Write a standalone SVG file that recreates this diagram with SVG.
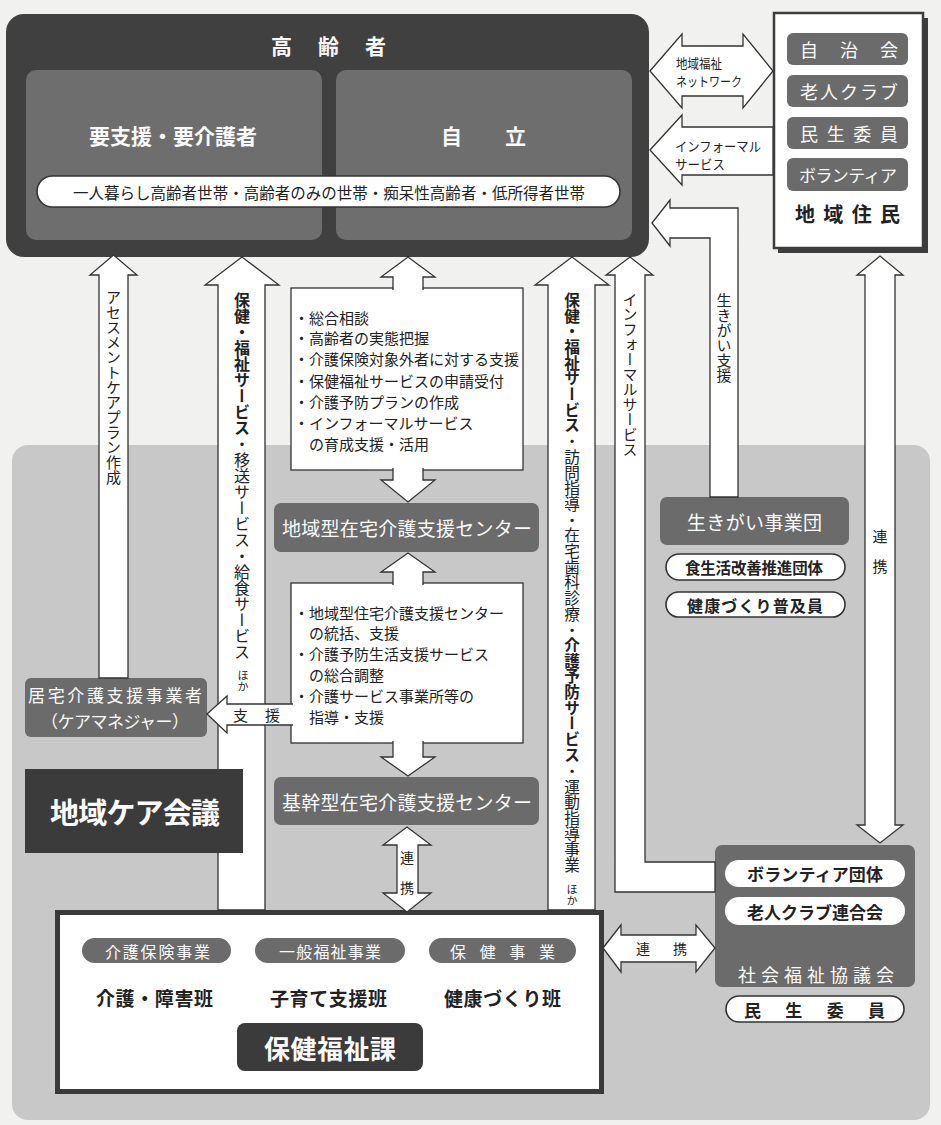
<svg xmlns="http://www.w3.org/2000/svg" width="941" height="1125" viewBox="0 0 941 1125">
<style>
text{font-family:"Noto Sans CJK JP","Noto Sans",sans-serif;dominant-baseline:central;fill:#222}
.w{fill:#fafafa}
.b{font-weight:bold}
.v{writing-mode:vertical-rl;dominant-baseline:auto}
.ar{fill:#fff;stroke:#333;stroke-width:1.3;stroke-linejoin:miter}
.gbox{fill:#6b6b6b}
.pill{fill:#fff;stroke:#333;stroke-width:1.6}
.info{fill:#fff;stroke:#333;stroke-width:1.3}
</style>
<rect width="941" height="1125" fill="#f1f1ef"/>
<rect x="12" y="445" width="918" height="675" rx="16" fill="#c8c8c8"/>

<g id="koreisha">
<rect x="6" y="14" width="643" height="243" rx="18" fill="#404040"/>
<rect x="26" y="70" width="296" height="170" rx="10" fill="#6e6e6e"/>
<rect x="336" y="70" width="296" height="170" rx="10" fill="#6e6e6e"/>
<text class="w b" x="271" y="45" font-size="21" textLength="115" lengthAdjust="spacing">高齢者</text>
<text class="w b" x="89" y="135" font-size="21" textLength="168" lengthAdjust="spacing">要支援・要介護者</text>
<text class="w b" x="441" y="135" font-size="21" textLength="85" lengthAdjust="spacing">自立</text>
<rect class="pill" x="37" y="176" width="583" height="31" rx="15.5" stroke-width="2"/>
<text x="73" y="192" font-size="15.5" textLength="512" lengthAdjust="spacing">一人暮らし高齢者世帯・高齢者のみの世帯・痴呆性高齢者・低所得者世帯</text>
</g>

<g id="chiiki-jumin">
<rect x="778" y="18" width="150" height="235" fill="#3d3d3d"/>
<rect x="774" y="13" width="149" height="235" fill="#fff" stroke="#3d3d3d" stroke-width="2.5"/>
<rect class="gbox" x="787" y="33" width="121" height="32" rx="6"/>
<text class="w" x="800" y="49" font-size="18" textLength="98" lengthAdjust="spacing">自治会</text>
<rect class="gbox" x="787" y="75" width="121" height="32" rx="6"/>
<text class="w" x="800" y="91" font-size="18" textLength="98" lengthAdjust="spacing">老人クラブ</text>
<rect class="gbox" x="787" y="117" width="121" height="32" rx="6"/>
<text class="w" x="800" y="132.5" font-size="18" textLength="98" lengthAdjust="spacing">民生委員</text>
<rect class="gbox" x="787" y="158" width="121" height="33" rx="6"/>
<text class="w" x="799" y="174.5" font-size="17" textLength="98" lengthAdjust="spacing">ボランティア</text>
<text class="b" x="795" y="213" font-size="20" textLength="105" lengthAdjust="spacing">地域住民</text>
</g>

<g id="info-upper">
<rect class="info" x="291" y="288" width="232" height="182"/>
<text x="294" y="317" font-size="15">・総合相談</text>
<text x="294" y="337" font-size="15">・高齢者の実態把握</text>
<text x="294" y="358" font-size="15">・介護保険対象外者に対する支援</text>
<text x="294" y="380" font-size="15">・保健福祉サービスの申請受付</text>
<text x="294" y="401" font-size="15">・介護予防プランの作成</text>
<text x="294" y="422" font-size="15">・インフォーマルサービス</text>
<text x="309" y="443" font-size="15">の育成支援・活用</text>
</g>

<g id="chiikigata">
<rect class="gbox" x="274" y="503" width="265" height="49" rx="7"/>
<text class="w" x="282" y="527.5" font-size="19" textLength="250" lengthAdjust="spacing">地域型在宅介護支援センター</text>
</g>

<g id="info-lower">
<rect class="info" x="291" y="583" width="232" height="160"/>
<text x="294" y="612" font-size="15">・地域型住宅介護支援センター</text>
<text x="309" y="632" font-size="15">の統括、支援</text>
<text x="294" y="653" font-size="15">・介護予防生活支援サービス</text>
<text x="309" y="674" font-size="15">の総合調整</text>
<text x="294" y="695" font-size="15">・介護サービス事業所等の</text>
<text x="309" y="716" font-size="15">指導・支援</text>
</g>

<g id="kikangata">
<rect class="gbox" x="274" y="777" width="265" height="48" rx="7"/>
<text class="w" x="282" y="801" font-size="19" textLength="250" lengthAdjust="spacing">基幹型在宅介護支援センター</text>
</g>

<g id="kyotaku">
<rect class="gbox" x="25" y="678" width="182" height="59" rx="6"/>
<text class="w" x="28" y="694" font-size="17" textLength="174" lengthAdjust="spacing">居宅介護支援事業者</text>
<text class="w" x="41" y="720" font-size="17" textLength="148" lengthAdjust="spacing">（ケアマネジャー）</text>
</g>

<g id="ikigai">
<rect class="gbox" x="660" y="497" width="189" height="48" rx="7"/>
<text class="w" x="687" y="521" font-size="19" textLength="135" lengthAdjust="spacing">生きがい事業団</text>
<rect class="pill" x="666" y="554" width="179" height="26" rx="13"/>
<text class="b" x="685" y="567" font-size="15.5" textLength="138" lengthAdjust="spacing">食生活改善推進団体</text>
<rect class="pill" x="666" y="592" width="179" height="25" rx="12.5"/>
<text class="b" x="687" y="604.5" font-size="16" textLength="136" lengthAdjust="spacing">健康づくり普及員</text>
</g>

<g id="shakyo">
<rect class="gbox" x="715" y="845" width="200" height="142" rx="7"/>
<rect x="725" y="860" width="180" height="27" rx="13.5" fill="#fff"/>
<text class="b" x="747" y="873.5" font-size="17" textLength="136" lengthAdjust="spacing">ボランティア団体</text>
<rect x="725" y="897" width="180" height="28" rx="14" fill="#fff"/>
<text class="b" x="747" y="911" font-size="17" textLength="136" lengthAdjust="spacing">老人クラブ連合会</text>
<text class="w" x="738" y="974" font-size="18" textLength="156" lengthAdjust="spacing">社会福祉協議会</text>
</g>

<g id="minsei">
<rect class="pill" x="726" y="996" width="178" height="26" rx="13"/>
<text class="b" x="744" y="1009" font-size="17" textLength="141" lengthAdjust="spacing">民生委員</text>
</g>

<g id="hokenfukushika">
<rect x="57.5" y="912.5" width="544" height="179" fill="#fff" stroke="#3a3a3a" stroke-width="5"/>
<rect class="gbox" x="82" y="938" width="149" height="25" rx="12.5"/>
<text class="w" x="105" y="950.5" font-size="16" textLength="105" lengthAdjust="spacing">介護保険事業</text>
<rect class="gbox" x="255" y="938" width="150" height="25" rx="12.5"/>
<text class="w" x="279" y="950.5" font-size="16" textLength="102" lengthAdjust="spacing">一般福祉事業</text>
<rect class="gbox" x="429" y="938" width="147" height="25" rx="12.5"/>
<text class="w" x="450" y="950.5" font-size="16" textLength="105" lengthAdjust="spacing">保健事業</text>
<text class="b" x="96" y="997" font-size="19" textLength="117" lengthAdjust="spacing">介護・障害班</text>
<text class="b" x="270" y="997" font-size="19" textLength="117" lengthAdjust="spacing">子育て支援班</text>
<text class="b" x="444" y="997" font-size="19" textLength="117" lengthAdjust="spacing">健康づくり班</text>
<rect x="237" y="1023" width="186" height="48" rx="8" fill="#3b3b3b"/>
<text class="w b" x="264" y="1047" font-size="26" textLength="132" lengthAdjust="spacing">保健福祉課</text>
</g>

<g id="connectors">
<path class="ar" d="M99,678 L99,275 L90,275 L113.5,255 L137,275 L128,275 L128,678 Z"/>
<text class="v" x="113.5" y="290" font-size="15">アセスメントケアプラン作成</text>

<path class="ar" d="M218,910 L218,285 L205,285 L242,257 L279,285 L265,285 L265,910 Z"/>
<text class="v" x="242" y="292" font-size="16"><tspan font-weight="bold">保健・福祉サービス</tspan>・移送サービス・給食サービス</text>
<text class="v" x="243" y="670" font-size="11">ほか</text>

<path class="ar" d="M293,704 L227,704 L227,696 L207,714 L227,733 L227,725 L293,725"/>
<text x="233" y="714.5" font-size="15" textLength="47" lengthAdjust="spacing">支援</text>

<path class="ar" d="M393,290 L393,277 L381,277 L408,257 L435,277 L423,277 L423,290"/>
<path class="ar" d="M393,468 L393,480 L381,480 L408,502 L435,480 L423,480 L423,468"/>
<path class="ar" d="M393,585 L393,572 L381,572 L408,553 L435,572 L423,572 L423,585"/>
<path class="ar" d="M393,741 L393,757 L381,757 L408,776 L435,757 L423,757 L423,741"/>

<path class="ar" d="M397,845 L383,845 L407,827 L431,845 L418,845 L418,893 L431,893 L407,912 L383,893 L397,893 Z"/>
<text x="407" y="857" font-size="14" text-anchor="middle">連</text>
<text x="407" y="887" font-size="14" text-anchor="middle">携</text>

<path class="ar" d="M548,910 L548,285 L535,285 L572,257 L609,285 L595,285 L595,910 Z"/>
<text class="v" x="572" y="292" font-size="15.7"><tspan font-weight="bold">保健・福祉サービス</tspan>・訪問指導・在宅歯科診療・<tspan font-weight="bold">介護予防サービス</tspan>・運動指導事業</text>
<text class="v" x="572" y="884" font-size="11">ほか</text>

<path class="ar" d="M615,892 L715,892 L715,862 L645,862 L645,275 L653,275 L630,257 L606,275 L615,275 Z"/>
<text class="v" x="630" y="292" font-size="15">インフォーマルサービス</text>

<path class="ar" d="M738,497 L738,208 L670,208 L670,200 L652,223 L670,246 L670,238 L710,238 L710,497 Z"/>
<text class="v" x="724" y="293" font-size="15">生きがい支援</text>

<path class="ar" d="M650,71 L682,34 L682,46 L743,46 L743,34 L773,71 L743,108 L743,96 L682,96 L682,108 Z"/>
<text x="676" y="62" font-size="13" textLength="46" lengthAdjust="spacingAndGlyphs">地域福祉</text>
<text x="676" y="80" font-size="13" textLength="66" lengthAdjust="spacingAndGlyphs">ネットワーク</text>

<path class="ar" d="M650,150 L682,115 L682,127 L773,127 L773,175 L682,175 L682,185 Z"/>
<text x="675" y="145" font-size="13" textLength="86" lengthAdjust="spacingAndGlyphs">インフォーマル</text>
<text x="675" y="163" font-size="13" textLength="50" lengthAdjust="spacingAndGlyphs">サービス</text>

<path class="ar" d="M865,275 L857,275 L880,256 L903,275 L895,275 L895,825 L903,825 L880,843 L857,825 L865,825 Z"/>
<text x="880" y="535" font-size="15" text-anchor="middle">連</text>
<text x="880" y="565" font-size="15" text-anchor="middle">携</text>

<path class="ar" d="M603,948 L621,925 L621,935 L696,935 L696,925 L715,948 L696,972 L696,962 L621,962 L621,972 Z"/>
<text x="636" y="948" font-size="14" textLength="51" lengthAdjust="spacing">連携</text>
</g>

<g id="chiiki-care-kaigi">
<rect x="25" y="769" width="218" height="84" fill="#3b3b3b"/>
<text class="w b" x="50" y="811" font-size="29" textLength="170" lengthAdjust="spacing">地域ケア会議</text>
</g>
</svg>
